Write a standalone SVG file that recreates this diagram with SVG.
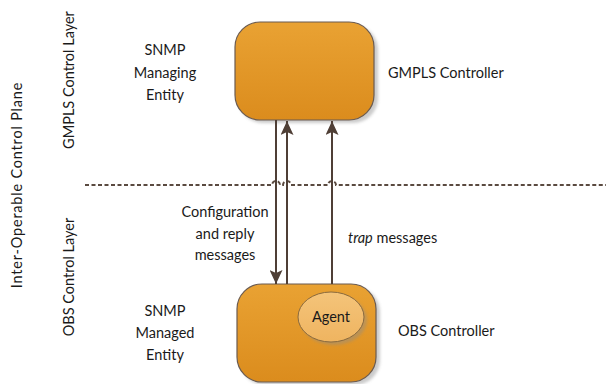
<svg xmlns="http://www.w3.org/2000/svg" width="606" height="384" viewBox="0 0 606 384">
  <style>
    text { font-family: Lato, "Open Sans", sans-serif; font-size: 14.5px; fill: #1a1a1a; }
    .mid { text-anchor: middle; }
    .box { fill: url(#boxFill); stroke: #6b5b50; stroke-width: 1.2; }
    .shadow { fill: #8c8c8c; opacity: 0.45; }
    .wire { stroke: #4f3f36; stroke-width: 2; fill: none; }
    .sep { stroke: #5a4a40; stroke-width: 2; fill: none; stroke-dasharray: 4 2.5; }
  </style>
  <defs>
    <linearGradient id="boxFill" x1="0" y1="0" x2="0" y2="1">
      <stop offset="0" stop-color="#E9A233"/>
      <stop offset="1" stop-color="#DB8C1D"/>
    </linearGradient>
    <linearGradient id="agentFill" x1="0" y1="0" x2="0" y2="1">
      <stop offset="0" stop-color="#F4C47A"/>
      <stop offset="1" stop-color="#EFB460"/>
    </linearGradient>
    <filter id="soft" x="-10%" y="-10%" width="130%" height="130%">
      <feGaussianBlur stdDeviation="1.5"/>
    </filter>
    <marker id="head" viewBox="0 0 14 13" refX="14" refY="6.5" markerWidth="14" markerHeight="13" markerUnits="userSpaceOnUse" orient="auto">
      <path d="M0,0 L14,6.5 L0,13 L3,6.5 z" fill="#4f3f36"/>
    </marker>
  </defs>

  <!-- side labels -->
  <text class="mid" transform="translate(22,185) rotate(-90)" letter-spacing="0.8">Inter-Operable Control Plane</text>
  <text class="mid" transform="translate(74,80) rotate(-90)">GMPLS Control Layer</text>
  <text class="mid" transform="translate(74,277) rotate(-90)">OBS Control Layer</text>

  <!-- layer separator, hopping over the vertical connectors -->
  <path class="sep" d="M85,185 H272 a4,4 0 0 1 8,0 H283 a4,4 0 0 1 8,0 H328 a4,4 0 0 1 8,0 H606"/>

  <!-- GMPLS controller -->
  <g id="gmpls-controller">
    <rect class="shadow" x="238" y="25" width="140" height="98" rx="25" filter="url(#soft)"/>
    <rect class="box" x="235" y="22" width="139" height="98" rx="25"/>
  </g>

  <!-- OBS controller with SNMP agent -->
  <g id="obs-controller">
    <rect class="shadow" x="240" y="287" width="140" height="98" rx="25" filter="url(#soft)"/>
    <rect class="box" x="237" y="284" width="139" height="98" rx="25"/>
  </g>
  <g id="agent">
    <ellipse class="shadow" cx="334" cy="320" rx="33" ry="25" filter="url(#soft)"/>
    <ellipse cx="331" cy="317" rx="33" ry="25" fill="url(#agentFill)" stroke="#8a6a3e" stroke-width="1"/>
    <text class="mid" x="331" y="322">Agent</text>
  </g>

  <!-- connectors -->
  <g id="connectors">
    <line class="wire" x1="276" y1="120" x2="276" y2="284" marker-end="url(#head)"/>
    <line class="wire" x1="287" y1="284" x2="287" y2="121" marker-end="url(#head)"/>
    <line class="wire" x1="332" y1="284" x2="332" y2="121" marker-end="url(#head)"/>
  </g>

  <!-- labels -->
  <g id="managing-entity-label">
    <text class="mid" x="165" y="55">SNMP</text>
    <text class="mid" x="165" y="78">Managing</text>
    <text class="mid" x="165" y="100">Entity</text>
  </g>
  <g id="managed-entity-label">
    <text class="mid" x="165" y="316">SNMP</text>
    <text class="mid" x="165" y="338">Managed</text>
    <text class="mid" x="165" y="360">Entity</text>
  </g>
  <text id="gmpls-label" x="388" y="78">GMPLS Controller</text>
  <text id="obs-label" x="398" y="336">OBS Controller</text>
  <g id="config-label">
    <text class="mid" x="225" y="217">Configuration</text>
    <text class="mid" x="225" y="239">and reply</text>
    <text class="mid" x="225" y="260">messages</text>
  </g>
  <text id="trap-label" x="348" y="243"><tspan font-style="italic">trap</tspan> messages</text>
</svg>
